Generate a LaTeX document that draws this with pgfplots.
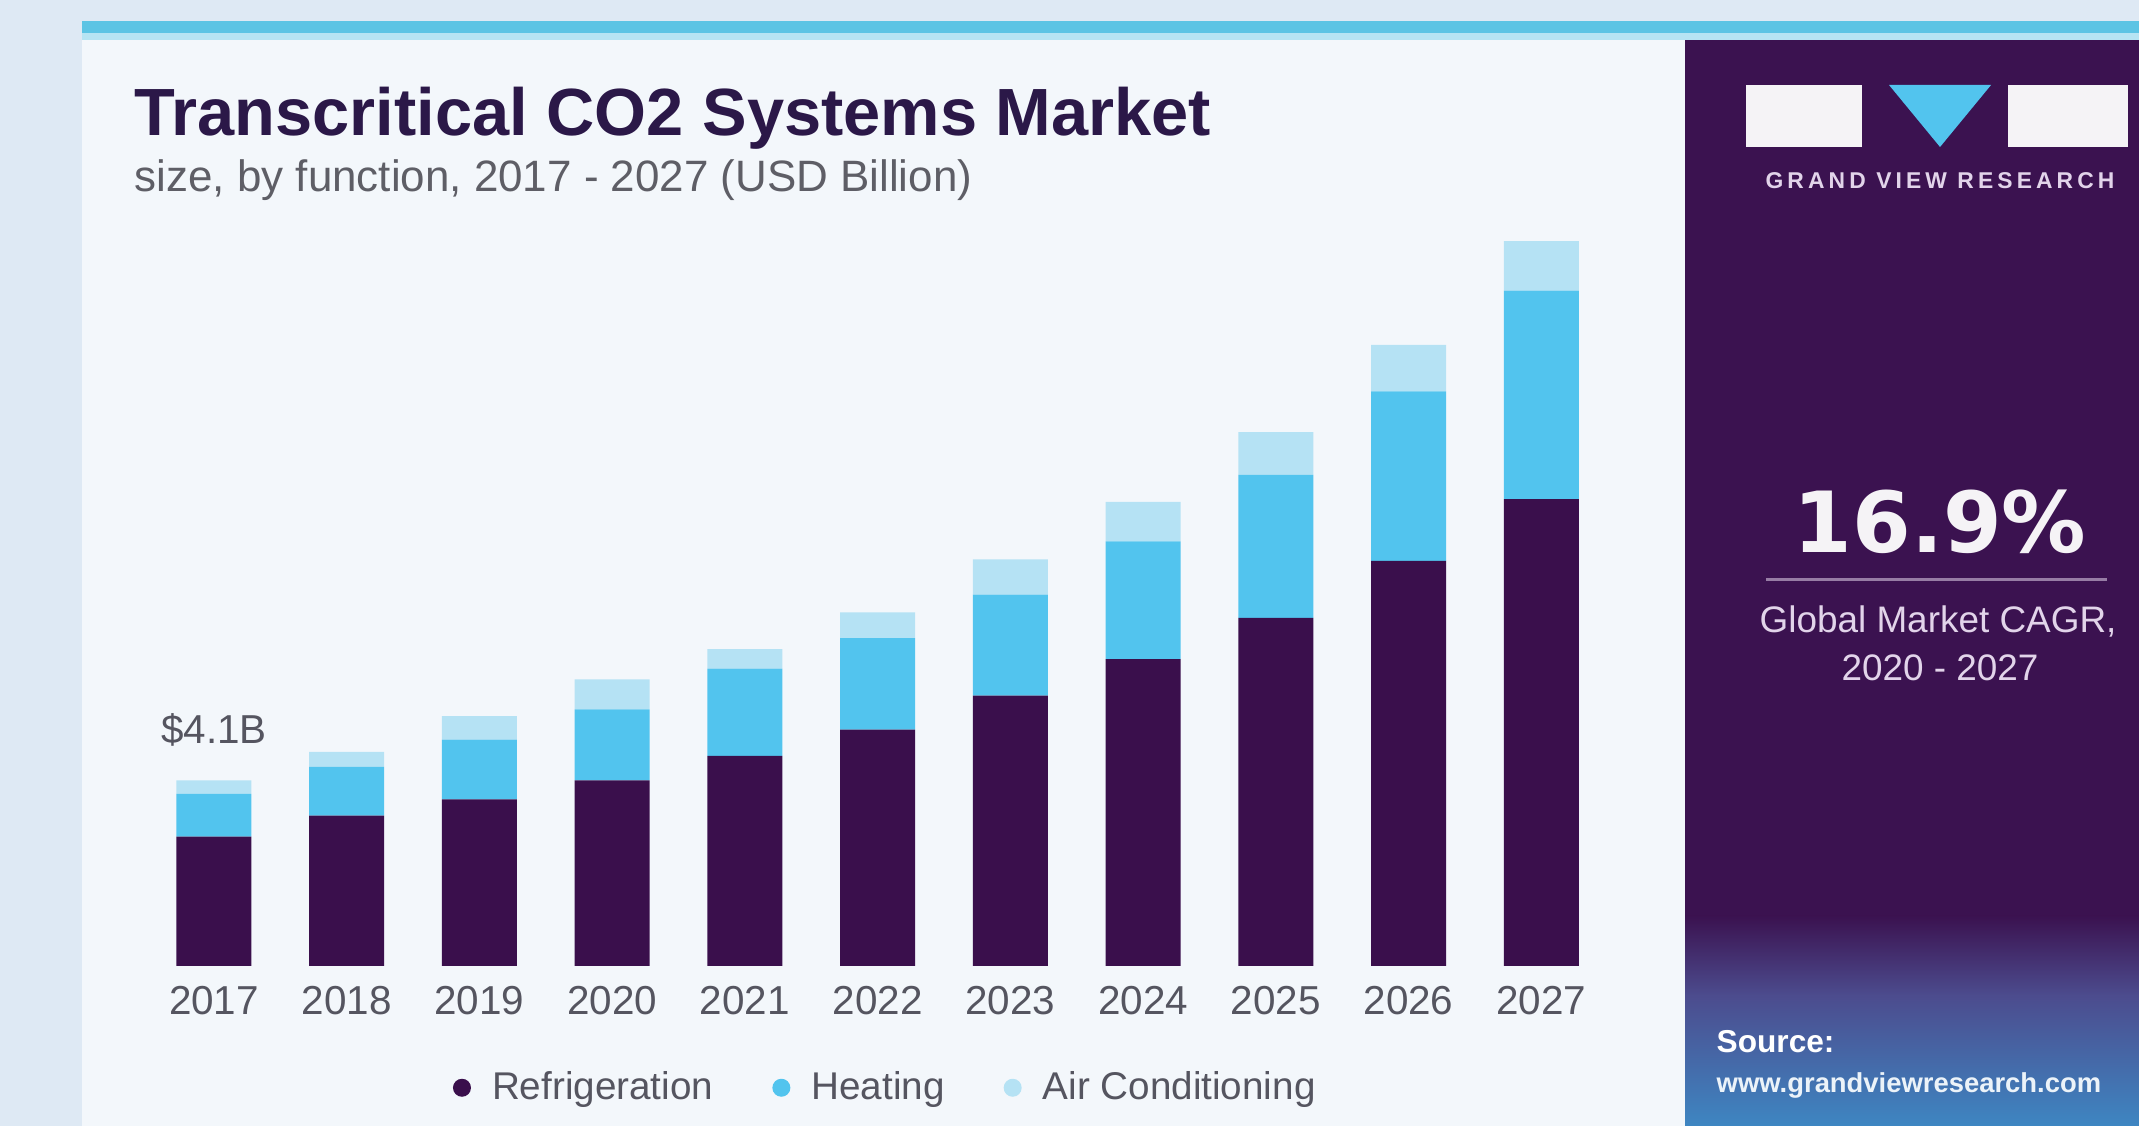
\documentclass[border=0pt]{standalone}
\usepackage{pgfplots}
\pgfplotsset{compat=1.18}
\usepackage{fontspec}
\setmainfont{Liberation Sans}
\newfontfamily\dejavu{DejaVu Sans}
\newfontfamily\spaced[LetterSpace=18]{Liberation Sans}
\definecolor{bgout}{HTML}{DEE9F4}
\definecolor{card}{HTML}{F3F7FB}
\definecolor{stripe}{HTML}{5CC4E4}
\definecolor{panel}{HTML}{3B1250}
\definecolor{panelmid}{HTML}{4C4C8E}
\definecolor{panelbot}{HTML}{3E86C2}
\definecolor{refr}{HTML}{3A0F4C}
\definecolor{heat}{HTML}{52C4EE}
\definecolor{aircon}{HTML}{B5E2F4}
\definecolor{titlec}{HTML}{2B1848}
\definecolor{subc}{HTML}{5E5E66}
\definecolor{greytxt}{HTML}{555560}
\definecolor{paneltxt}{HTML}{E2D4EA}
\begin{document}
\begin{tikzpicture}
\path[use as bounding box] (0,0) rectangle (213.9mm,112.6mm);
\clip (0,0) rectangle (213.9mm,112.6mm);
\begin{scope}[x=0.1mm,y=-0.1mm,yshift=112.6mm]
  \fill[bgout] (0,0) rectangle (2139,1126);
  \fill[card] (82,40) rectangle (1685,1126);
  \fill[stripe] (82,21) rectangle (2139,33);
  \fill[stripe!45!white] (82,33) rectangle (2139,40);
  \fill[panel] (1685,40) rectangle (2139,1126);
\end{scope}
\shade[top color=panel, bottom color=panelmid] (168.5mm,13mm) rectangle (213.9mm,21mm);
\shade[top color=panelmid, bottom color=panelbot] (168.5mm,0mm) rectangle (213.9mm,13mm);
\begin{scope}[x=0.1mm,y=-0.1mm,yshift=112.6mm]
  \node[anchor=base west, font=\fontsize{19}{22}\selectfont\bfseries, text=titlec, inner sep=0] at (134,136) {Transcritical CO2 Systems Market};
  \node[anchor=base west, font=\fontsize{12.5}{14}\selectfont, text=subc, inner sep=0] at (134,192) {size, by function, 2017 - 2027 (USD Billion)};
  % logo
  \fill[white!95!panel] (1746,85) rectangle (1862,147);
  \fill[white!95!panel] (2008,85) rectangle (2128,147);
  \fill[heat] (1889,85) -- (1991,85) -- (1940,147) -- cycle;
  \node[font=\fontsize{6.5}{7}\selectfont\spaced\bfseries, text=paneltxt, inner sep=0] at (1940,181) {GRAND VIEW RESEARCH};
  \node[font=\fontsize{24}{26}\selectfont\dejavu\bfseries, text=white!95!panel, inner sep=0] at (1940,522) {16.9\%};
  \draw[color=paneltxt!55!panel, line width=0.3mm] (1766,580) -- (2107,580);
  \node[font=\fontsize{10.5}{12}\selectfont, text=paneltxt, inner sep=0] at (1938,621) {Global Market CAGR,};
  \node[font=\fontsize{10.5}{12}\selectfont, text=paneltxt, inner sep=0] at (1940,668) {2020 - 2027};
  \node[anchor=base west, font=\fontsize{9}{10}\selectfont\bfseries, text=white, inner sep=0] at (1716,1052) {Source:};
  \node[anchor=base west, font=\fontsize{7.8}{9}\selectfont\bfseries, text=white!90!panelbot, inner sep=0] at (1716,1092) {www.grandviewresearch.com};
\end{scope}
\begin{axis}[
  at={(14.76mm,16.0mm)}, anchor=south west,
  width=146.0mm, height=74.7mm, scale only axis,
  ybar stacked, bar width=7.5mm,
  xmin=-0.5, xmax=10.5, ymin=0, ymax=16.5,
  clip=false,
  axis line style={draw=none},
  tick style={draw=none},
  ytick=\empty,
  xtick={0,...,10},
  xticklabels={2017,2018,2019,2020,2021,2022,2023,2024,2025,2026,2027},
  xticklabel style={font=\fontsize{11.5}{12}\selectfont, text=greytxt, inner sep=0pt, yshift=-2.0mm},
  legend columns=-1,
  legend style={draw=none, fill=none, at={(0.507,-0.163)}, anchor=center,
    font=\fontsize{11}{12}\selectfont, text=greytxt,
    /tikz/every even column/.append style={column sep=5.2mm}},
  legend image code/.code={\fill[#1] (0.9mm,0mm) circle (0.9mm); \path (3.2mm,0mm);},
]
\addplot[fill=refr, draw=none] coordinates {(0,2.86) (1,3.32) (2,3.68) (3,4.10) (4,4.64) (5,5.22) (6,5.97) (7,6.78) (8,7.69) (9,8.95) (10,10.31)};
\addplot[fill=heat, draw=none] coordinates {(0,0.94) (1,1.08) (2,1.32) (3,1.57) (4,1.93) (5,2.02) (6,2.23) (7,2.60) (8,3.16) (9,3.74) (10,4.61)};
\addplot[fill=aircon, draw=none] coordinates {(0,0.30) (1,0.33) (2,0.52) (3,0.66) (4,0.43) (5,0.57) (6,0.78) (7,0.87) (8,0.94) (9,1.03) (10,1.09)};
\legend{Refrigeration, Heating, Air Conditioning}
\node[font=\fontsize{11.5}{12}\selectfont, text=greytxt] at (axis cs:0,5.22) {\$4.1B};
\end{axis}
\end{tikzpicture}
\end{document}
